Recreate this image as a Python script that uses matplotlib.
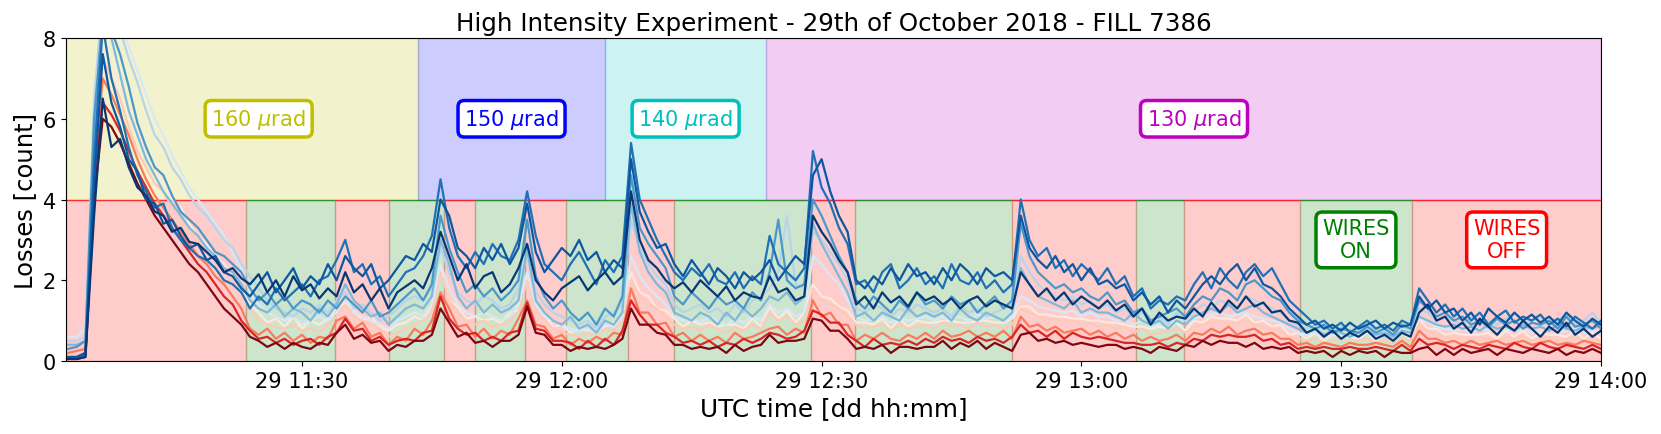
import matplotlib
matplotlib.use("Agg")
import matplotlib.pyplot as plt
import matplotlib.dates as mdates
import pandas as pd

# one sample per minute, 11:03 -> 14:00
tiempos = pd.date_range("2018-10-29 11:03", "2018-10-29 14:00", freq="1min")

azul_blanco = [0.6, 0.6, 0.8, 5.8, 8.6, 8.5, 8.3, 7.8, 7.2, 6.6,
               6.0, 5.6, 5.1, 4.7, 4.3, 4.0, 3.7, 3.4, 3.1, 2.7,
               2.3, 1.7, 1.4, 1.2, 1.1, 1.0, 1.1, 0.9, 1.0, 1.1,
               1.0, 1.2, 1.6, 1.2, 1.1, 1.0, 0.9, 0.8, 1.0, 1.1,
               1.2, 1.1, 1.4, 2.4, 1.8, 1.4, 1.2, 1.1, 1.2, 1.1,
               1.0, 1.1, 1.4, 2.2, 1.4, 1.1, 1.0, 0.9, 0.8, 0.75,
               0.8, 0.7, 0.9, 0.85, 1.1, 2.6, 2.1, 1.8, 1.6, 1.4,
               1.1, 1.0, 1.05, 0.95, 1.1, 1.0, 0.9, 1.05, 0.95, 1.1,
               1.0, 1.4, 1.2, 1.3, 1.1, 1.2, 2.6, 2.4, 2.1, 1.9,
               1.5, 1.1, 1.0, 1.05, 1.1, 0.95, 1.1, 1.0, 1.05, 1.1,
               1.0, 1.1, 1.05, 1.1, 1.0, 1.15, 1.05, 1.1, 1.0, 1.1,
               1.6, 1.5, 1.35, 1.3, 1.25, 1.2, 1.25, 1.1, 1.2, 1.1,
               1.1, 1.0, 1.05, 0.9, 1.0, 0.85, 0.9, 0.95, 1.0, 0.9,
               1.05, 1.1, 1.15, 1.2, 1.1, 1.15, 1.2, 1.1, 1.05, 1.0,
               0.95, 0.8, 0.7, 0.65, 0.7, 0.6, 0.65, 0.7, 0.6, 0.65,
               0.7, 0.6, 0.65, 0.6, 0.7, 0.65, 1.1, 0.95, 0.85, 0.8,
               0.75, 0.8, 0.7, 0.8, 0.75, 0.7, 0.8, 0.75, 0.8, 0.7,
               0.75, 0.8, 0.7, 0.75, 0.8, 0.7, 0.75, 0.7]

azul_claro = [0.5, 0.5, 0.6, 6.5, 9.0, 8.8, 8.2, 7.5, 6.9, 6.2,
              5.6, 5.3, 4.8, 4.5, 4.1, 3.8, 3.6, 3.3, 3.0, 2.8,
              2.4, 2.1, 1.8, 1.5, 1.3, 1.2, 1.1, 1.3, 1.2, 1.4,
              1.2, 1.5, 1.7, 1.3, 1.4, 1.2, 1.0, 1.1, 1.3, 1.5,
              1.6, 1.5, 1.8, 2.8, 2.2, 1.7, 1.5, 1.4, 1.6, 1.5,
              1.3, 1.4, 1.8, 2.6, 1.7, 1.4, 1.2, 1.1, 1.0, 0.9,
              1.0, 0.8, 1.1, 1.2, 1.4, 3.5, 2.8, 2.4, 2.1, 1.9,
              1.4, 1.2, 1.3, 1.4, 1.2, 1.3, 1.1, 1.4, 1.2, 1.5,
              1.6, 1.8, 2.2, 3.6, 1.9, 1.8, 3.2, 3.0, 2.7, 2.4,
              2.0, 1.3, 1.2, 1.4, 1.3, 1.1, 1.3, 1.2, 1.4, 1.3,
              1.2, 1.3, 1.1, 1.4, 1.2, 1.3, 1.1, 1.2, 1.3, 1.4,
              2.6, 2.2, 1.9, 1.7, 1.6, 1.5, 1.6, 1.4, 1.5, 1.3,
              1.4, 1.2, 1.3, 1.1, 1.2, 1.0, 1.1, 0.9, 1.2, 1.0,
              1.2, 1.4, 1.3, 1.5, 1.4, 1.3, 1.6, 1.5, 1.4, 1.3,
              1.2, 1.0, 0.9, 0.8, 0.9, 0.8, 0.75, 0.85, 0.7, 0.8,
              0.9, 0.75, 0.8, 0.7, 0.85, 0.8, 1.3, 1.2, 1.0, 1.1,
              1.0, 0.9, 1.1, 0.95, 1.0, 0.9, 1.05, 1.2, 0.95, 1.0,
              1.1, 0.9, 1.0, 1.15, 0.9, 1.0, 1.2, 0.95]

azul_bajo = [0.4, 0.4, 0.5, 5.5, 8.8, 8.0, 7.1, 6.2, 5.6, 5.0,
             4.6, 4.2, 3.9, 3.6, 3.3, 3.1, 2.8, 2.6, 2.3, 2.2,
             1.9, 1.5, 1.3, 1.2, 1.4, 1.1, 1.3, 1.2, 1.0, 1.3,
             1.1, 1.4, 1.9, 1.5, 1.3, 1.1, 1.2, 0.9, 1.1, 1.3,
             1.4, 1.3, 1.6, 3.0, 2.4, 1.6, 1.3, 1.5, 1.2, 1.4,
             1.2, 1.3, 1.5, 2.8, 1.5, 1.2, 1.0, 0.9, 1.1, 0.8,
             0.9, 0.7, 1.0, 0.9, 1.2, 3.9, 2.7, 2.2, 1.9, 1.7,
             1.2, 1.1, 1.0, 1.2, 1.1, 0.9, 1.2, 1.0, 1.3, 1.1,
             1.3, 1.6, 1.5, 1.7, 1.4, 1.6, 3.4, 2.9, 2.5, 2.1,
             1.7, 1.1, 1.2, 1.0, 1.2, 1.1, 1.0, 1.3, 1.1, 1.2,
             1.1, 1.2, 1.0, 1.3, 1.1, 1.0, 1.2, 1.1, 1.0, 1.2,
             2.3, 1.9, 1.6, 1.5, 1.4, 1.3, 1.5, 1.2, 1.3, 1.2,
             1.2, 1.1, 1.0, 1.2, 1.0, 0.9, 1.0, 0.8, 1.0, 0.9,
             1.1, 1.2, 1.3, 1.2, 1.4, 1.2, 1.3, 1.4, 1.2, 1.1,
             1.0, 0.9, 0.8, 0.7, 0.8, 0.65, 0.75, 0.7, 0.6, 0.7,
             0.75, 0.65, 0.7, 0.6, 0.75, 0.7, 1.1, 1.0, 0.9, 0.85,
             0.9, 0.8, 0.85, 0.75, 0.9, 0.8, 0.85, 0.75, 0.9, 0.8,
             0.85, 0.75, 0.9, 0.8, 0.75, 0.85, 0.8, 0.9]

azul_medio = [0.3, 0.35, 0.5, 6.0, 8.5, 8.2, 7.6, 6.8, 5.9, 5.3,
              4.8, 4.6, 4.1, 3.7, 3.5, 3.3, 3.0, 2.7, 2.6, 2.4,
              2.2, 1.8, 1.5, 1.7, 1.4, 1.6, 1.3, 1.5, 1.4, 1.2,
              1.5, 1.3, 1.6, 1.4, 1.2, 1.5, 1.1, 1.2, 1.4, 1.6,
              1.8, 1.5, 1.9, 3.6, 2.8, 2.2, 1.7, 1.9, 1.6, 1.8,
              1.5, 1.7, 2.0, 3.5, 2.1, 1.6, 1.3, 1.5, 1.2, 1.0,
              1.2, 0.9, 1.3, 1.1, 1.6, 4.6, 3.3, 2.9, 2.6, 2.3,
              1.6, 1.4, 1.7, 1.5, 1.3, 1.6, 1.4, 1.5, 1.3, 1.7,
              1.5, 2.2, 3.5, 2.0, 1.8, 1.9, 4.0, 3.6, 3.1, 2.6,
              2.2, 1.5, 1.3, 1.6, 1.4, 1.2, 1.5, 1.3, 1.7, 1.4,
              1.5, 1.3, 1.6, 1.4, 1.5, 1.2, 1.4, 1.6, 1.3, 1.5,
              3.4, 2.6, 2.2, 2.0, 1.8, 1.9, 1.7, 1.8, 1.6, 1.5,
              1.7, 1.4, 1.5, 1.2, 1.3, 1.0, 1.1, 1.2, 1.3, 1.1,
              1.4, 1.6, 1.5, 1.8, 1.7, 1.5, 1.9, 2.0, 1.8, 1.6,
              1.5, 1.2, 1.0, 0.9, 0.8, 0.9, 0.7, 0.8, 0.75, 0.7,
              0.85, 0.7, 0.8, 0.65, 0.9, 0.8, 1.5, 1.3, 1.1, 1.2,
              1.0, 1.1, 0.9, 1.0, 0.85, 1.05, 0.9, 1.0, 0.8, 0.95,
              0.9, 1.0, 0.8, 1.1, 0.85, 0.9, 1.0, 0.8]

azul = [0.05, 0.1, 0.15, 5.0, 8.3, 7.0, 6.2, 5.3, 4.6, 4.2,
        3.8, 3.9, 3.3, 3.0, 2.8, 2.6, 2.5, 2.3, 2.0, 1.9,
        1.7, 1.3, 1.6, 1.4, 1.8, 1.5, 1.7, 1.9, 1.6, 2.0,
        2.1, 2.5, 3.0, 2.2, 2.4, 1.9, 2.1, 1.6, 1.9, 2.2,
        2.3, 2.6, 3.1, 4.5, 3.3, 2.6, 2.3, 2.7, 2.4, 2.9,
        2.6, 2.5, 3.0, 4.2, 3.1, 2.4, 2.2, 2.0, 2.4, 2.7,
        2.3, 1.9, 2.5, 2.2, 2.6, 5.4, 4.0, 3.5, 3.0, 2.6,
        2.2, 2.0, 2.3, 2.1, 2.4, 2.0, 1.9, 2.2, 1.8, 2.1,
        1.9, 3.1, 2.4, 2.2, 2.0, 2.3, 5.2, 4.3, 3.9, 3.3,
        2.9, 1.9, 2.0, 1.7, 2.2, 2.4, 1.8, 2.0, 2.3, 1.9,
        2.1, 1.8, 2.4, 2.0, 1.9, 2.2, 1.8, 2.0, 1.7, 1.9,
        4.0, 3.0, 2.6, 2.8, 2.3, 2.5, 2.1, 2.4, 2.2, 2.0,
        2.3, 1.9, 2.1, 1.6, 1.8, 1.3, 1.5, 1.4, 1.6, 1.5,
        1.9, 2.2, 1.8, 2.3, 2.0, 1.8, 2.2, 2.4, 2.1, 2.3,
        1.9, 1.5, 1.3, 1.1, 0.9, 1.0, 0.8, 0.95, 0.7, 0.85,
        1.0, 0.8, 0.9, 0.75, 1.0, 0.9, 1.8, 1.5, 1.2, 1.4,
        1.1, 1.3, 1.0, 1.2, 0.9, 1.1, 1.25, 0.95, 1.1, 1.0,
        1.15, 0.9, 1.05, 0.85, 1.1, 0.95, 0.8, 1.0]

azul_alto = [0.1, 0.1, 0.2, 4.4, 7.6, 6.4, 5.8, 5.0, 4.7, 4.0,
             3.9, 3.4, 3.5, 3.1, 2.8, 2.9, 2.5, 2.6, 2.2, 2.1,
             1.8, 1.6, 1.9, 2.2, 1.7, 2.0, 2.3, 1.8, 2.1, 1.9,
             2.4, 2.0, 2.6, 2.3, 2.1, 2.4, 1.8, 2.0, 2.3, 2.6,
             2.5, 2.9, 2.7, 4.0, 3.6, 2.8, 2.6, 2.3, 2.8, 2.5,
             2.9, 2.4, 2.8, 3.9, 2.7, 2.2, 2.5, 2.8, 2.6, 3.0,
             2.5, 2.7, 2.2, 2.5, 2.3, 5.0, 3.7, 3.2, 2.8, 2.9,
             2.4, 2.1, 2.5, 2.2, 1.9, 2.3, 2.1, 1.8, 2.2, 2.0,
             2.2, 2.5, 2.0, 2.3, 2.6, 2.4, 4.6, 5.0, 4.2, 3.6,
             3.2, 2.0, 1.8, 2.1, 1.9, 2.3, 2.0, 2.4, 2.1, 2.2,
             1.9, 2.3, 2.0, 2.4, 2.2, 1.9, 2.3, 2.1, 2.2, 2.0,
             3.6, 2.8, 2.5, 2.3, 2.6, 2.2, 2.4, 2.0, 2.3, 1.9,
             2.0, 1.8, 1.9, 1.5, 1.7, 1.4, 1.6, 1.2, 1.5, 1.3,
             1.6, 1.9, 2.1, 1.9, 2.2, 2.4, 2.0, 2.3, 1.9, 1.8,
             1.6, 1.3, 1.1, 0.9, 1.0, 0.8, 0.9, 0.75, 0.95, 0.8,
             0.9, 1.0, 0.8, 0.95, 0.85, 0.9, 1.6, 1.3, 1.5, 1.2,
             1.3, 1.0, 1.2, 0.9, 1.3, 1.1, 0.95, 1.2, 1.0, 1.15,
             0.95, 1.1, 0.9, 1.2, 1.0, 0.85, 1.05, 0.9]

azul_oscuro = [0.05, 0.05, 0.1, 3.6, 6.5, 5.3, 5.5, 4.8, 4.3, 4.1,
               3.7, 3.6, 3.2, 3.3, 2.95, 2.9, 2.7, 2.5, 2.2, 2.3,
               2.05, 1.9, 2.15, 1.7, 2.0, 1.6, 2.1, 1.75, 1.9, 1.55,
               1.8, 1.6, 2.2, 1.7, 1.9, 1.5, 1.8, 1.3, 1.7, 1.85,
               2.0, 1.8, 2.3, 3.2, 2.6, 2.0, 2.4, 1.8, 2.1, 2.2,
               1.7, 1.9, 2.3, 2.9, 2.0, 1.7, 1.5, 1.8, 1.95, 2.1,
               1.75, 2.0, 2.2, 1.9, 2.1, 4.2, 3.0, 2.5, 2.3, 2.0,
               1.8, 1.95, 1.7, 2.0, 1.8, 1.6, 1.85, 1.5, 1.7, 1.6,
               1.55, 2.1, 1.7, 1.8, 1.5, 1.6, 3.6, 3.2, 2.9, 2.5,
               2.2, 1.4, 1.6, 1.3, 1.7, 1.45, 1.6, 1.35, 1.7, 1.5,
               1.6, 1.4, 1.55, 1.3, 1.5, 1.6, 1.35, 1.5, 1.4, 1.3,
               2.2, 1.9, 1.6, 1.8, 1.5, 1.7, 1.4, 1.6, 1.45, 1.3,
               1.5, 1.25, 1.4, 1.1, 1.3, 0.9, 1.2, 1.0, 1.1, 1.05,
               1.3, 1.1, 1.45, 1.2, 1.5, 1.3, 1.6, 1.35, 1.45, 1.2,
               1.25, 1.0, 0.95, 0.7, 0.8, 0.6, 0.75, 0.55, 0.7, 0.6,
               0.75, 0.55, 0.65, 0.5, 0.7, 0.6, 1.2, 1.4, 1.0, 1.1,
               0.8, 0.95, 0.7, 1.05, 0.85, 0.65, 0.9, 0.75, 1.0, 0.8,
               0.6, 0.85, 0.7, 0.95, 0.65, 0.8, 0.6, 0.75]

rojo_blanco = [0.5, 0.5, 0.6, 5.3, 7.8, 7.4, 6.8, 6.3, 5.7, 5.2,
               4.8, 4.5, 4.0, 3.8, 3.4, 3.1, 2.9, 2.6, 2.4, 2.1,
               1.9, 1.4, 1.2, 0.95, 1.05, 0.85, 1.1, 0.8, 1.0, 0.9,
               1.05, 1.3, 1.45, 1.25, 1.0, 1.1, 0.85, 0.75, 0.9, 0.95,
               1.1, 1.0, 1.4, 2.3, 1.5, 1.35, 1.05, 1.1, 1.0, 1.05,
               0.95, 1.2, 1.25, 2.1, 1.3, 1.15, 0.85, 0.9, 0.7, 0.8,
               0.75, 0.8, 0.85, 0.95, 1.05, 2.2, 1.7, 1.6, 1.3, 1.25,
               1.05, 0.85, 1.0, 0.9, 0.95, 0.85, 0.9, 0.9, 0.8, 1.05,
               0.85, 1.35, 1.05, 1.25, 0.95, 1.2, 1.9, 1.6, 1.55, 1.35,
               1.25, 0.95, 0.95, 0.9, 1.05, 0.8, 1.05, 0.85, 1.0, 0.95,
               0.95, 1.0, 1.0, 0.95, 0.95, 1.0, 1.0, 0.95, 0.95, 1.05,
               1.35, 1.35, 1.15, 1.15, 1.1, 1.1, 1.05, 1.05, 1.0, 1.0,
               0.95, 0.95, 0.9, 0.85, 0.85, 0.8, 0.85, 0.8, 0.95, 0.75,
               1.0, 0.95, 1.1, 1.05, 1.05, 1.0, 1.15, 0.95, 1.0, 0.85,
               0.9, 0.65, 0.7, 0.55, 0.7, 0.5, 0.65, 0.6, 0.6, 0.55,
               0.7, 0.5, 0.65, 0.5, 0.7, 0.55, 1.05, 0.8, 0.8, 0.65,
               0.7, 0.65, 0.65, 0.65, 0.7, 0.55, 0.75, 0.6, 0.75, 0.55,
               0.7, 0.65, 0.65, 0.6, 0.75, 0.55, 0.7, 0.55]

rojo_claro = [0.4, 0.4, 0.5, 5.0, 7.5, 7.0, 6.5, 5.8, 5.2, 4.8,
              4.4, 4.2, 3.8, 3.5, 3.2, 3.0, 2.7, 2.5, 2.3, 2.0,
              1.7, 1.3, 1.0, 0.9, 0.85, 0.8, 0.9, 0.75, 0.8, 0.7,
              0.9, 1.1, 1.4, 1.1, 1.0, 0.9, 0.8, 0.6, 0.7, 0.8,
              0.9, 1.0, 1.2, 2.2, 1.5, 1.2, 1.0, 0.9, 1.0, 0.85,
              0.9, 1.0, 1.2, 2.0, 1.3, 1.0, 0.8, 0.7, 0.65, 0.6,
              0.7, 0.6, 0.8, 0.75, 1.0, 2.0, 1.6, 1.4, 1.3, 1.1,
              0.9, 0.8, 0.85, 0.75, 0.9, 0.8, 0.7, 0.85, 0.75, 0.9,
              0.8, 1.2, 1.0, 1.1, 0.9, 1.0, 1.8, 1.5, 1.4, 1.3,
              1.1, 0.9, 0.8, 0.85, 0.9, 0.75, 0.9, 0.8, 0.85, 0.9,
              0.8, 0.95, 0.85, 0.9, 0.8, 0.95, 0.85, 0.9, 0.8, 0.9,
              1.3, 1.2, 1.1, 1.0, 1.05, 0.95, 1.0, 0.9, 0.95, 0.85,
              0.9, 0.8, 0.85, 0.7, 0.8, 0.65, 0.7, 0.75, 0.8, 0.7,
              0.85, 0.9, 0.95, 1.0, 0.9, 0.95, 1.0, 0.9, 0.85, 0.8,
              0.75, 0.6, 0.55, 0.5, 0.55, 0.45, 0.5, 0.55, 0.45, 0.5,
              0.55, 0.45, 0.5, 0.45, 0.55, 0.5, 0.9, 0.75, 0.65, 0.6,
              0.55, 0.6, 0.5, 0.6, 0.55, 0.5, 0.6, 0.55, 0.6, 0.5,
              0.55, 0.6, 0.5, 0.55, 0.6, 0.5, 0.55, 0.5]

rojo_medio = [0.2, 0.25, 0.3, 4.6, 7.0, 6.6, 6.1, 5.6, 5.0, 4.5,
              4.1, 3.8, 3.5, 3.2, 2.9, 2.6, 2.4, 2.1, 1.9, 1.6,
              1.3, 0.8, 0.65, 0.8, 0.55, 0.7, 0.5, 0.65, 0.45, 0.6,
              0.55, 1.0, 1.1, 0.8, 0.95, 0.6, 0.7, 0.4, 0.6, 0.5,
              0.8, 0.65, 1.0, 1.7, 1.3, 0.85, 0.9, 0.6, 0.8, 0.55,
              0.75, 0.65, 1.05, 1.5, 0.9, 0.85, 0.55, 0.65, 0.4, 0.55,
              0.45, 0.6, 0.5, 0.7, 0.65, 1.8, 1.2, 1.2, 0.9, 0.95,
              0.6, 0.7, 0.5, 0.65, 0.5, 0.6, 0.45, 0.7, 0.55, 0.6,
              0.7, 0.8, 0.85, 0.65, 0.8, 0.7, 1.5, 1.1, 1.2, 0.9,
              0.9, 0.5, 0.65, 0.55, 0.7, 0.55, 0.5, 0.65, 0.55, 0.7,
              0.55, 0.75, 0.6, 0.65, 0.75, 0.6, 0.7, 0.6, 0.75, 0.55,
              1.1, 0.85, 0.9, 0.75, 0.85, 0.7, 0.75, 0.8, 0.65, 0.75,
              0.6, 0.7, 0.55, 0.65, 0.5, 0.6, 0.5, 0.55, 0.65, 0.5,
              0.7, 0.65, 0.8, 0.7, 0.85, 0.65, 0.75, 0.8, 0.65, 0.7,
              0.55, 0.55, 0.4, 0.45, 0.35, 0.45, 0.4, 0.35, 0.45, 0.4,
              0.4, 0.45, 0.4, 0.35, 0.5, 0.35, 0.75, 0.55, 0.55, 0.45,
              0.5, 0.4, 0.5, 0.4, 0.45, 0.5, 0.4, 0.45, 0.5, 0.4,
              0.45, 0.5, 0.4, 0.45, 0.4, 0.5, 0.45, 0.4]

rojo = [0.1, 0.1, 0.2, 4.3, 6.4, 6.1, 5.7, 5.2, 4.7, 4.3,
        3.9, 3.6, 3.3, 3.0, 2.7, 2.4, 2.2, 1.9, 1.6, 1.4,
        1.0, 0.75, 0.55, 0.6, 0.45, 0.55, 0.4, 0.5, 0.55, 0.4,
        0.6, 0.7, 1.05, 0.75, 0.8, 0.5, 0.6, 0.4, 0.5, 0.55,
        0.5, 0.7, 0.75, 1.6, 1.05, 0.8, 0.65, 0.7, 0.5, 0.6,
        0.5, 0.7, 0.75, 1.45, 0.8, 0.75, 0.5, 0.5, 0.45, 0.3,
        0.5, 0.35, 0.55, 0.4, 0.75, 1.5, 1.15, 0.9, 0.9, 0.7,
        0.6, 0.45, 0.5, 0.4, 0.5, 0.35, 0.45, 0.4, 0.55, 0.45,
        0.55, 0.7, 0.65, 0.55, 0.6, 0.75, 1.25, 1.15, 0.95, 0.95,
        0.65, 0.5, 0.35, 0.55, 0.4, 0.45, 0.4, 0.5, 0.4, 0.55,
        0.45, 0.6, 0.5, 0.55, 0.45, 0.6, 0.5, 0.55, 0.45, 0.6,
        0.9, 0.7, 0.75, 0.6, 0.75, 0.55, 0.7, 0.6, 0.55, 0.6,
        0.55, 0.5, 0.45, 0.45, 0.4, 0.4, 0.45, 0.35, 0.45, 0.4,
        0.55, 0.5, 0.65, 0.6, 0.65, 0.6, 0.6, 0.65, 0.5, 0.55,
        0.4, 0.45, 0.3, 0.35, 0.3, 0.35, 0.3, 0.3, 0.35, 0.3,
        0.3, 0.35, 0.3, 0.25, 0.4, 0.25, 0.55, 0.4, 0.45, 0.4,
        0.3, 0.4, 0.35, 0.3, 0.4, 0.35, 0.3, 0.45, 0.35, 0.3,
        0.45, 0.35, 0.3, 0.4, 0.35, 0.3, 0.4, 0.3]

rojo_oscuro = [0.05, 0.05, 0.1, 4.0, 6.0, 5.8, 5.4, 4.9, 4.4, 4.0,
               3.6, 3.3, 3.0, 2.7, 2.4, 2.2, 1.9, 1.6, 1.3, 1.1,
               0.9, 0.6, 0.5, 0.35, 0.45, 0.3, 0.45, 0.35, 0.3, 0.45,
               0.4, 0.7, 0.9, 0.55, 0.65, 0.45, 0.5, 0.25, 0.4, 0.35,
               0.5, 0.5, 0.65, 1.3, 0.95, 0.6, 0.7, 0.45, 0.5, 0.35,
               0.5, 0.5, 0.65, 1.35, 0.7, 0.65, 0.4, 0.4, 0.25, 0.35,
               0.3, 0.35, 0.3, 0.4, 0.55, 1.3, 0.9, 0.9, 0.7, 0.65,
               0.4, 0.4, 0.3, 0.35, 0.3, 0.35, 0.2, 0.4, 0.25, 0.35,
               0.4, 0.65, 0.45, 0.5, 0.5, 0.55, 1.05, 1.0, 0.75, 0.75,
               0.55, 0.3, 0.35, 0.3, 0.4, 0.2, 0.35, 0.35, 0.3, 0.35,
               0.35, 0.5, 0.3, 0.45, 0.35, 0.5, 0.3, 0.45, 0.35, 0.25,
               0.65, 0.7, 0.5, 0.55, 0.45, 0.5, 0.4, 0.45, 0.4, 0.35,
               0.4, 0.4, 0.3, 0.35, 0.3, 0.2, 0.35, 0.3, 0.25, 0.4,
               0.35, 0.5, 0.4, 0.5, 0.45, 0.45, 0.35, 0.45, 0.3, 0.35,
               0.3, 0.35, 0.2, 0.25, 0.2, 0.25, 0.1, 0.25, 0.15, 0.25,
               0.2, 0.25, 0.1, 0.25, 0.2, 0.2, 0.3, 0.35, 0.15, 0.3,
               0.15, 0.3, 0.2, 0.25, 0.3, 0.15, 0.3, 0.25, 0.2, 0.3,
               0.25, 0.2, 0.3, 0.15, 0.25, 0.2, 0.3, 0.2]

# crossing angle periods (upper half)
angulos = ["160", "150", "140", "130"]
angulo_inicio = ["11:02:45", "11:43:24", "12:05:00", "12:23:36"]
angulo_fin = ["11:43:24", "12:05:00", "12:23:36", "14:00:00"]
angulo_color = ["y", "b", "c", "m"]
angulo_texto = ["11:25:00", "11:54:12", "12:14:18", "13:13:00"]

# wire status periods (lower half)
cables_inicio = ["11:02:45", "11:23:30", "11:33:48", "11:40:00", "11:46:24", "11:50:00",
                 "11:55:42", "12:00:30", "12:07:36", "12:13:00", "12:28:48", "12:33:54",
                 "12:52:00", "13:06:15", "13:11:48", "13:25:12", "13:38:12"]
cables_fin = cables_inicio[1:] + ["14:00:00"]
cables_on = [False, True, False, True, False, True, False, True, False, True,
             False, True, False, True, False, True, False]


def hora(h):
    return pd.Timestamp("2018-10-29 " + h)


fig = plt.figure(figsize=(16.61, 4.35), dpi=100)
ax = fig.add_axes([0.0397, 0.1678, 0.9242, 0.7425])

for i in range(len(angulos)):
    ax.axvspan(hora(angulo_inicio[i]), hora(angulo_fin[i]), ymin=0.5, ymax=1,
               color=angulo_color[i], alpha=0.2)
    ax.text(hora(angulo_texto[i]), 6, angulos[i] + r" $\mu$rad", color=angulo_color[i],
            fontsize=15, ha="center", va="center",
            bbox=dict(boxstyle="round", facecolor="white", edgecolor=angulo_color[i], linewidth=2.5))

for i in range(len(cables_inicio)):
    c = "g" if cables_on[i] else "r"
    ax.axvspan(hora(cables_inicio[i]), hora(cables_fin[i]), ymin=0, ymax=0.5,
               color=c, alpha=0.2)
    ax.hlines(4, hora(cables_inicio[i]), hora(cables_fin[i]), color=c, lw=1, alpha=0.7)

ax.text(hora("13:31:42"), 3, "WIRES\nON", color="g", fontsize=15, ha="center", va="center",
        bbox=dict(boxstyle="round", facecolor="white", edgecolor="g", linewidth=2.5))
ax.text(hora("13:49:06"), 3, "WIRES\nOFF", color="r", fontsize=15, ha="center", va="center",
        bbox=dict(boxstyle="round", facecolor="white", edgecolor="r", linewidth=2.5))

rojos = [rojo_blanco, rojo_claro, rojo_medio, rojo, rojo_oscuro]
nivel_rojo = [0.08, 0.2, 0.45, 0.7, 0.95]
for serie, n in zip(rojos, nivel_rojo):
    ax.plot(tiempos, serie, color=plt.cm.Reds(n), lw=1.6)

azules = [azul_blanco, azul_claro, azul_bajo, azul_medio, azul, azul_alto, azul_oscuro]
nivel_azul = [0.15, 0.3, 0.45, 0.6, 0.75, 0.85, 0.97]
for serie, n in zip(azules, nivel_azul):
    ax.plot(tiempos, serie, color=plt.cm.Blues(n), lw=1.6)

ax.set_xlim(hora("11:02:45"), hora("14:00:00"))
ax.set_ylim(0, 8)
ax.set_yticks([0, 2, 4, 6, 8])
ax.xaxis.set_major_locator(mdates.MinuteLocator(byminute=[0, 30]))
ax.xaxis.set_major_formatter(mdates.DateFormatter("%d %H:%M"))
ax.tick_params(labelsize=15)
ax.set_xlabel("UTC time [dd hh:mm]", fontsize=17.8)
ax.set_ylabel("Losses [count]", fontsize=17.5)
ax.set_title("High Intensity Experiment - 29th of October 2018 - FILL 7386", fontsize=17.7)

fig.savefig("out.png", dpi=100)
